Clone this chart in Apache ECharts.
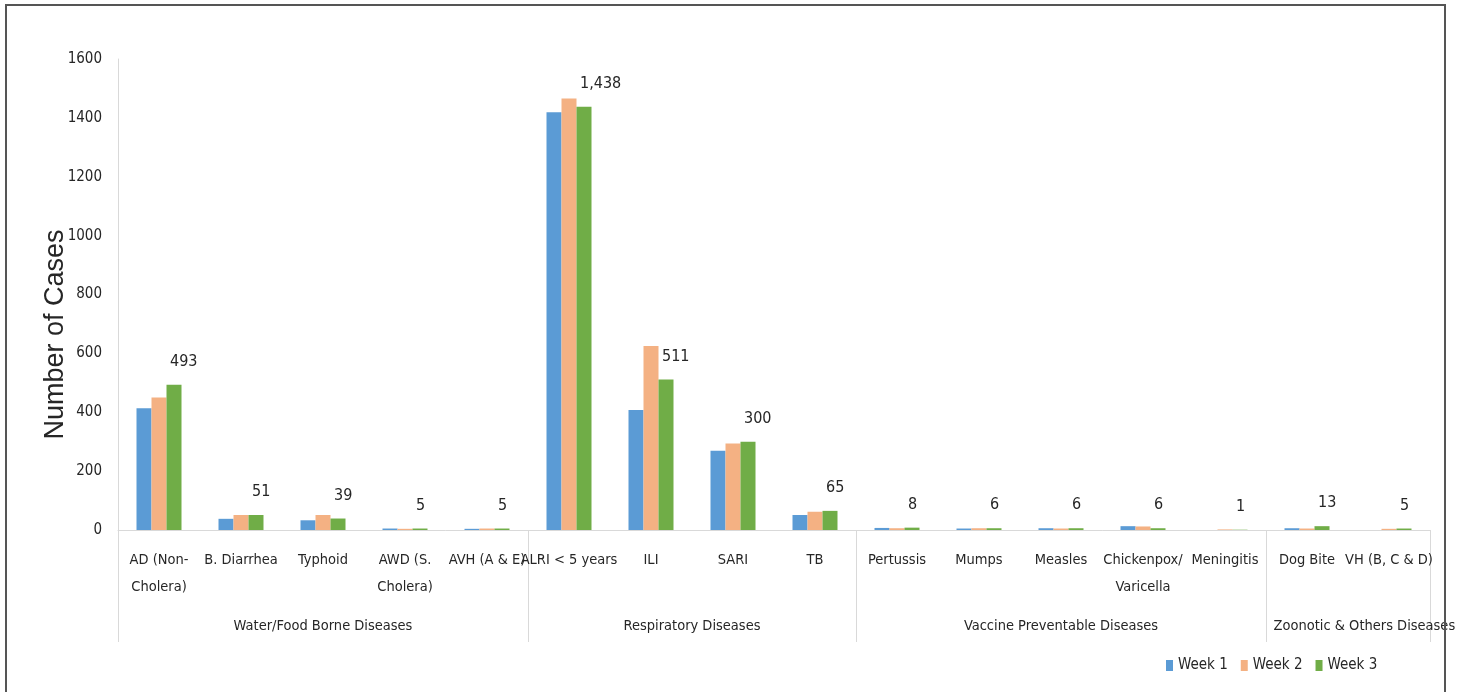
<!DOCTYPE html>
<html>
<head>
<meta charset="utf-8">
<script src="https://cdn.jsdelivr.net/npm/echarts@6/dist/echarts.min.js"></script>
<style>
html,body{margin:0;padding:0;background:#fff;}
#chart{width:1457px;height:692px;}
</style>
</head>
<body>
<div id="chart"></div>
<script>
const categories = ['AD (Non-\nCholera)', 'B. Diarrhea', 'Typhoid', 'AWD (S.\nCholera)', 'AVH (A & E)',
  'ALRI < 5 years', 'ILI', 'SARI', 'TB',
  'Pertussis', 'Mumps', 'Measles', 'Chickenpox/\nVaricella', 'Meningitis',
  'Dog Bite', 'VH (B, C & D)'];
const groups = ['Water/Food Borne Diseases', 'Respiratory Diseases', 'Vaccine Preventable Diseases', 'Zoonotic & Others Diseases'];
const groupSizes = [5, 4, 5, 2];
const week1 = [414, 38, 33, 5, 4, 1419, 408, 269, 51, 7, 5, 6, 13, 0, 6, 0];
const week2 = [450, 51, 51, 4, 5, 1466, 625, 294, 62, 6, 6, 5, 12, 2, 5, 4];
const week3 = [493, 51, 39, 5, 5, 1438, 511, 300, 65, 8, 6, 6, 6, 1, 13, 5];
const yTicks = [0, 200, 400, 600, 800, 1000, 1200, 1400, 1600];

const FONT = "'Liberation Sans Narrow', 'DejaVu Sans Condensed', sans-serif";
const TXT = '#262626';

const bounds = [0];
groupSizes.forEach(s => bounds.push(bounds[bounds.length - 1] + s));
const groupCenters = groupSizes.map((s, i) => bounds[i] + s / 2);
groupCenters[3] += 0.2;

const chart = echarts.init(document.getElementById('chart'), null, {renderer: 'canvas'});
const barCommon = {type: 'bar', barWidth: 15, barGap: '0%', xAxisIndex: 0};
chart.setOption({
  animation: false,
  backgroundColor: '#fff',
  grid: {left: 118, right: 27, top: 59, bottom: 162, containLabel: false, outerBoundsMode: 'none'},
  legend: {
    data: ['Week 1', 'Week 2', 'Week 3'],
    left: 1161, top: 653,
    itemWidth: 7, itemHeight: 11, itemGap: 13,
    icon: 'rect',
    textStyle: {fontFamily: FONT, fontSize: 15, color: TXT}
  },
  xAxis: [{
    type: 'category',
    data: categories,
    boundaryGap: true,
    axisLine: {show: true, lineStyle: {color: '#d9d9d9', width: 1}},
    axisTick: {show: false},
    axisLabel: {interval: 0, margin: 17, fontFamily: FONT, fontSize: 14.5, color: TXT, lineHeight: 27, hideOverlap: false}
  }, {
    type: 'value',
    min: 0, max: 16,
    position: 'bottom',
    axisLine: {show: false},
    splitLine: {show: false},
    axisTick: {show: true, customValues: bounds, length: 112, lineStyle: {color: '#d9d9d9', width: 1}},
    axisLabel: {
      show: true, customValues: groupCenters, margin: 89, hideOverlap: false,
      fontFamily: FONT, fontSize: 14.5, color: TXT,
      formatter: function (v) {
        const i = groupCenters.findIndex(c => Math.abs(c - v) < 1e-6);
        return i >= 0 ? groups[i] : '';
      }
    }
  }],
  yAxis: {
    type: 'value',
    min: yTicks[0], max: yTicks[yTicks.length - 1], interval: yTicks[1] - yTicks[0],
    axisLine: {show: true, lineStyle: {color: '#d9d9d9', width: 1}},
    axisTick: {show: false},
    splitLine: {show: false},
    axisLabel: {fontFamily: FONT, fontSize: 15, color: TXT, margin: 16, formatter: v => String(v)},
    name: 'Number of Cases',
    nameLocation: 'middle',
    nameGap: 49,
    nameMoveOverlap: false,
    nameTextStyle: {fontFamily: "'Liberation Sans', Arial, sans-serif", fontSize: 27, color: TXT, padding: [0, 80, 0, 0]}
  },
  series: [
    Object.assign({name: 'Week 1', data: week1, itemStyle: {color: '#5B9BD5'}}, barCommon),
    Object.assign({name: 'Week 2', data: week2, itemStyle: {color: '#F4B183'}}, barCommon),
    Object.assign({name: 'Week 3', data: week3, itemStyle: {color: '#70AD47'},
      label: {
        show: true, position: 'top', distance: 15, align: 'left', offset: [-4, 0],
        fontFamily: FONT, fontSize: 16, color: TXT,
        formatter: p => p.value.toLocaleString('en-US')
      }}, barCommon)
  ],
  graphic: [{
    type: 'rect',
    shape: {x: 6, y: 5, width: 1439, height: 700},
    style: {fill: null, stroke: '#555', lineWidth: 2},
    silent: true, z: 100
  }]
});
</script>
</body>
</html>
